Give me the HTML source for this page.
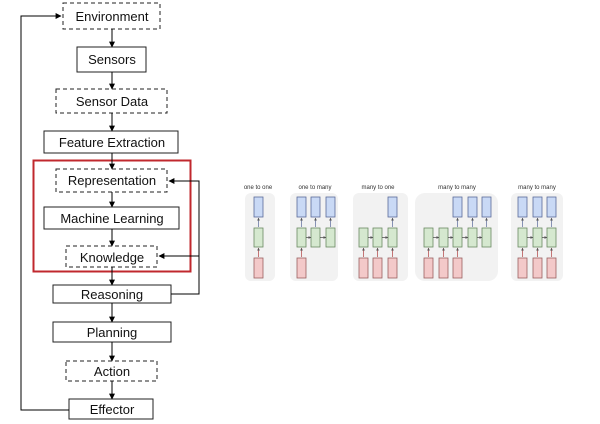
<!DOCTYPE html>
<html><head><meta charset="utf-8"><style>
html,body{margin:0;padding:0;background:#fff;width:600px;height:424px;overflow:hidden}
svg text{font-family:"Liberation Sans",sans-serif}
</style></head><body>
<svg width="600" height="424" viewBox="0 0 600 424" xmlns="http://www.w3.org/2000/svg">
<defs>
<marker id="a" viewBox="0 0 10 10" refX="9" refY="5" markerWidth="6" markerHeight="6" orient="auto"><path d="M0,0L10,5L0,10z" fill="#000"/></marker>
<marker id="s" viewBox="0 0 10 10" refX="9" refY="5" markerWidth="4" markerHeight="4" orient="auto"><path d="M0,0L10,5L0,10z" fill="#555"/></marker>
</defs>
<g fill="#fff" stroke="#222" stroke-width="1">
<rect x="63" y="3" width="97" height="26" stroke-dasharray="4,3"/>
<rect x="77" y="47" width="69" height="25"/>
<rect x="56" y="89" width="111" height="24" stroke-dasharray="4,3"/>
<rect x="44" y="131" width="134" height="22"/>
<rect x="56" y="169" width="111" height="23" stroke-dasharray="4,3"/>
<rect x="44" y="207" width="135" height="22"/>
<rect x="66" y="246" width="91" height="21" stroke-dasharray="4,3"/>
<rect x="53" y="285" width="118" height="18"/>
<rect x="53" y="322" width="118" height="20"/>
<rect x="66" y="361" width="91" height="20" stroke-dasharray="4,3"/>
<rect x="69" y="399" width="84" height="20"/>
</g>
<rect x="33.5" y="160.5" width="157" height="111" fill="none" stroke="#c0282e" stroke-width="2"/>
<g stroke="#000" stroke-width="1" fill="none" marker-end="url(#a)">
<line x1="112" y1="29" x2="112" y2="47"/>
<line x1="112" y1="72" x2="112" y2="89"/>
<line x1="112" y1="113" x2="112" y2="131"/>
<line x1="112" y1="153" x2="112" y2="169"/>
<line x1="112" y1="192" x2="112" y2="207"/>
<line x1="112" y1="229" x2="112" y2="246"/>
<line x1="112" y1="267" x2="112" y2="285"/>
<line x1="112" y1="303" x2="112" y2="322"/>
<line x1="112" y1="342" x2="112" y2="361"/>
<line x1="112" y1="381" x2="112" y2="399"/>
<polyline points="69,410 21,410 21,16 61,16"/>
<polyline points="171,294 199,294 199,181 169,181"/>
<polyline points="199,256 159,256"/>
</g>
<g font-size="13" text-anchor="middle" fill="#111">
<text x="112" y="21">Environment</text>
<text x="112" y="64">Sensors</text>
<text x="112" y="106">Sensor Data</text>
<text x="112" y="147">Feature Extraction</text>
<text x="112" y="185">Representation</text>
<text x="112" y="223">Machine Learning</text>
<text x="112" y="262">Knowledge</text>
<text x="112" y="299">Reasoning</text>
<text x="112" y="337">Planning</text>
<text x="112" y="376">Action</text>
<text x="112" y="414">Effector</text>
</g>
<!-- RNN panels -->
<g fill="#f2f2f2">
<rect x="245" y="193" width="30" height="88" rx="6"/>
<rect x="290" y="193" width="48" height="88" rx="6"/>
<rect x="353" y="193" width="55" height="88" rx="6"/>
<rect x="415" y="193" width="83" height="88" rx="10"/>
<rect x="511" y="193" width="52" height="88" rx="6"/>
</g>
<g font-size="6" text-anchor="middle" fill="#333">
<text x="258" y="189">one to one</text>
<text x="315" y="189">one to many</text>
<text x="378" y="189">many to one</text>
<text x="457" y="189">many to many</text>
<text x="537" y="189">many to many</text>
</g>
<g stroke-width="0.8">
<!-- blue -->
<g fill="#c9d9f5" stroke="#5a6a9a">
<rect x="254" y="197" width="9" height="20"/>
<rect x="297" y="197" width="9" height="20"/><rect x="311" y="197" width="9" height="20"/><rect x="326" y="197" width="9" height="20"/>
<rect x="388" y="197" width="9" height="20"/>
<rect x="453" y="197" width="9" height="20"/><rect x="468" y="197" width="9" height="20"/><rect x="482" y="197" width="9" height="20"/>
<rect x="518" y="197" width="9" height="20"/><rect x="533" y="197" width="9" height="20"/><rect x="547" y="197" width="9" height="20"/>
</g>
<g fill="#d5e8cf" stroke="#6a8a62">
<rect x="254" y="228" width="9" height="19"/>
<rect x="297" y="228" width="9" height="19"/><rect x="311" y="228" width="9" height="19"/><rect x="326" y="228" width="9" height="19"/>
<rect x="359" y="228" width="9" height="19"/><rect x="373" y="228" width="9" height="19"/><rect x="388" y="228" width="9" height="19"/>
<rect x="424" y="228" width="9" height="19"/><rect x="439" y="228" width="9" height="19"/><rect x="453" y="228" width="9" height="19"/><rect x="468" y="228" width="9" height="19"/><rect x="482" y="228" width="9" height="19"/>
<rect x="518" y="228" width="9" height="19"/><rect x="533" y="228" width="9" height="19"/><rect x="547" y="228" width="9" height="19"/>
</g>
<g fill="#f3c9c9" stroke="#9a6060">
<rect x="254" y="258" width="9" height="20"/>
<rect x="297" y="258" width="9" height="20"/>
<rect x="359" y="258" width="9" height="20"/><rect x="373" y="258" width="9" height="20"/><rect x="388" y="258" width="9" height="20"/>
<rect x="424" y="258" width="9" height="20"/><rect x="439" y="258" width="9" height="20"/><rect x="453" y="258" width="9" height="20"/>
<rect x="518" y="258" width="9" height="20"/><rect x="533" y="258" width="9" height="20"/><rect x="547" y="258" width="9" height="20"/>
</g>
</g>
<g stroke-width="0.7" marker-end="url(#s)">
<g stroke="#5a6a9a">
<line x1="258.5" y1="227" x2="258.5" y2="218"/>
<line x1="301.5" y1="227" x2="301.5" y2="218"/><line x1="315.5" y1="227" x2="315.5" y2="218"/><line x1="330.5" y1="227" x2="330.5" y2="218"/>
<line x1="392.5" y1="227" x2="392.5" y2="218"/>
<line x1="457.5" y1="227" x2="457.5" y2="218"/><line x1="472.5" y1="227" x2="472.5" y2="218"/><line x1="486.5" y1="227" x2="486.5" y2="218"/>
<line x1="522.5" y1="227" x2="522.5" y2="218"/><line x1="537.5" y1="227" x2="537.5" y2="218"/><line x1="551.5" y1="227" x2="551.5" y2="218"/>
</g>
<g stroke="#b04040">
<line x1="258.5" y1="257" x2="258.5" y2="248"/>
<line x1="301.5" y1="257" x2="301.5" y2="248"/>
<line x1="363.5" y1="257" x2="363.5" y2="248"/><line x1="377.5" y1="257" x2="377.5" y2="248"/><line x1="392.5" y1="257" x2="392.5" y2="248"/>
<line x1="428.5" y1="257" x2="428.5" y2="248"/><line x1="443.5" y1="257" x2="443.5" y2="248"/><line x1="457.5" y1="257" x2="457.5" y2="248"/>
<line x1="522.5" y1="257" x2="522.5" y2="248"/><line x1="537.5" y1="257" x2="537.5" y2="248"/><line x1="551.5" y1="257" x2="551.5" y2="248"/>
</g>
<g stroke="#444">
<line x1="306" y1="237.5" x2="311" y2="237.5"/><line x1="320" y1="237.5" x2="326" y2="237.5"/>
<line x1="368" y1="237.5" x2="373" y2="237.5"/><line x1="382" y1="237.5" x2="388" y2="237.5"/>
<line x1="433" y1="237.5" x2="439" y2="237.5"/><line x1="448" y1="237.5" x2="453" y2="237.5"/><line x1="462" y1="237.5" x2="468" y2="237.5"/><line x1="477" y1="237.5" x2="482" y2="237.5"/>
<line x1="527" y1="237.5" x2="533" y2="237.5"/><line x1="542" y1="237.5" x2="547" y2="237.5"/>
</g>
</g>
</svg>
</body></html>
